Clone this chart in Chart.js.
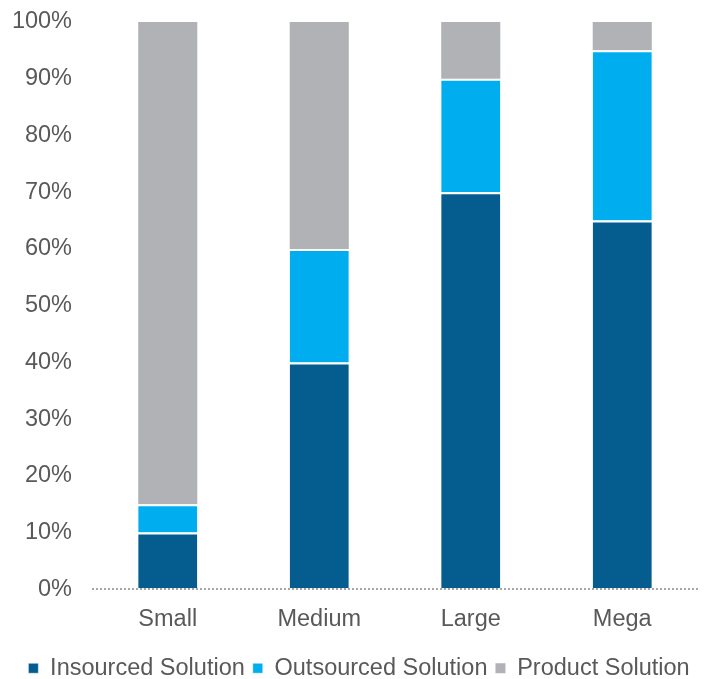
<!DOCTYPE html>
<html lang="en">
<head>
  <meta charset="UTF-8">
  <title>Solution mix by size</title>
  <script src="https://cdn.jsdelivr.net/npm/chart.js"></script>
  <style>
    html, body { margin: 0; padding: 0; background: #fff; }
    .wrap { width: 711px; height: 679px; }
  </style>
</head>
<body>
  <div class="wrap"><canvas id="myChart"></canvas></div>
  <script>
    const categories = ['Small', 'Medium', 'Large', 'Mega'];
    const insourced = [10, 40, 70, 65];
    const outsourced = [5, 20, 20, 30];
    const product = [85, 40, 10, 5];

    const ctx = document.getElementById('myChart');
    const txt = '#595959';
    const fnt = { family: 'Liberation Sans, Arial', size: 23.5 };

    function seg(label, data, color, gap) {
      return {
        label: label,
        data: data,
        backgroundColor: color,
        borderColor: '#ffffff',
        borderWidth: { top: gap, left: 0, right: 0, bottom: 0 },
        borderSkipped: false,
        barPercentage: 0.39,
        categoryPercentage: 1
      };
    }

    // pull the legend closer to the bottom edge and a little to the right
    const legendNudge = {
      id: 'legendNudge',
      afterInit(chart) {
        const lg = chart.legend;
        if (!lg) return;
        const fit = lg.fit;
        lg.fit = function () { fit.call(this); this.height -= 11; };
      },
      afterLayout(chart) {
        const lg = chart.legend;
        if (!lg) return;
        lg.left += 10;
        lg.right += 10;
      }
    };

    new Chart(ctx, {
      type: 'bar',
      data: {
        labels: categories,
        datasets: [
          seg('Insourced Solution', insourced, '#045C8F', 2),
          seg('Outsourced Solution', outsourced, '#00AEEF', 2),
          seg('Product Solution', product, '#B1B2B5', 0)
        ]
      },
      options: {
        responsive: true,
        maintainAspectRatio: false,
        animation: false,
        layout: { padding: { top: 22, right: 13, left: 0, bottom: 0 } },
        scales: {
          x: {
            stacked: true,
            afterFit: (s) => { s.height += 7; },
            grid: { display: false },
            border: { display: false },
            ticks: { color: txt, font: fnt, padding: 8 }
          },
          y: {
            stacked: true,
            min: 0,
            max: 100,
            afterFit: (s) => { s.width = 92; s.paddingTop = 0; },
            grid: {
              color: (c) => c.tick && c.tick.value === 0 ? '#A6A6A6' : 'rgba(0,0,0,0)',
              lineWidth: 2,
              drawTicks: false
            },
            border: { display: false, dash: [2, 2] },
            ticks: {
              stepSize: 10,
              color: txt,
              padding: 20,
              font: fnt,
              callback: (v) => v + '%'
            }
          }
        },
        plugins: {
          legend: {
            position: 'bottom',
            labels: {
              color: txt,
              font: fnt,
              boxWidth: 10,
              boxHeight: 10,
              padding: 8
            }
          },
          tooltip: { enabled: false }
        }
      },
      plugins: [legendNudge]
    });
  </script>
</body>
</html>
